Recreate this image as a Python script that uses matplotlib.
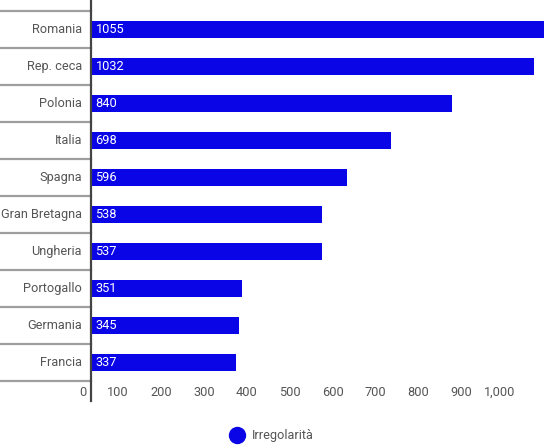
import matplotlib
matplotlib.use("Agg")
import matplotlib.pyplot as plt
from matplotlib.lines import Line2D
from matplotlib.transforms import blended_transform_factory, offset_copy

plt.rcParams['font.family'] = ['Roboto', 'DejaVu Sans']

# data
countries = ['Romania', 'Rep. ceca', 'Polonia', 'Italia', 'Spagna',
             'Gran Bretagna', 'Ungheria', 'Portogallo', 'Germania', 'Francia']
irregolarita = [1055, 1032, 840, 698, 596, 538, 537, 351, 345, 337]
xticks = [0, 100, 200, 300, 400, 500, 600, 700, 800, 900, 1000]
series_name = 'Irregolarità'

bar_col = '#0a05e6'
txt_col = '#555555'
fs = 9.2

W, H = 549, 446
fig = plt.figure(figsize=(W / 100, H / 100), dpi=100)
ax = fig.add_axes([91 / W, 1 - 401 / H, (W - 91) / W, 401 / H])

ypos = list(range(len(countries)))
ax.barh(ypos, irregolarita, height=0.46, color=bar_col)

ax.set_xlim(0, (W - 91) / 0.4293)
ax.set_ylim(10.04, -0.797)

for s in ['top', 'right', 'bottom']:
    ax.spines[s].set_visible(False)
ax.spines['left'].set_color('#444444')
ax.spines['left'].set_linewidth(1.6)
ax.set_xticks([])
ax.set_yticks([])

# separators between categories, to the left of the axis
trans = blended_transform_factory(ax.transAxes, ax.transData)
for i in range(len(countries) + 1):
    ax.plot([-91 / (W - 91), 0], [i - 0.5, i - 0.5], color='#9e9e9e',
            lw=1.6, transform=trans, clip_on=False)

# category labels
lab_trans = offset_copy(trans, fig=fig, x=-9 * 0.72, units='points')
for y, name in zip(ypos, countries):
    ax.text(0, y, name, transform=lab_trans, ha='right', va='center',
            fontsize=fs, color=txt_col)

# value labels inside bars
val_trans = offset_copy(ax.transData, fig=fig, x=4.5 * 0.72, units='points')
for y, v in zip(ypos, irregolarita):
    ax.text(0, y, str(v), transform=val_trans, ha='left', va='center',
            fontsize=fs, color='white')

# x tick labels
tick_trans = offset_copy(blended_transform_factory(ax.transData, ax.transAxes),
                         fig=fig, x=-5 * 0.72, units='points')
for v in xticks:
    ax.text(v, 9 / 401, f'{v:,}', transform=tick_trans, ha='right',
            va='center', fontsize=fs, color=txt_col)

handle = Line2D([], [], marker='o', linestyle='none', color=bar_col,
                markersize=11.5)
fig.legend([handle], [series_name], loc='center', bbox_to_anchor=(0.4945, 1 - 436 / H),
           frameon=False, fontsize=fs, labelcolor=txt_col, handletextpad=0.6,
           handlelength=1.2)

fig.savefig('out.png', dpi=100)
